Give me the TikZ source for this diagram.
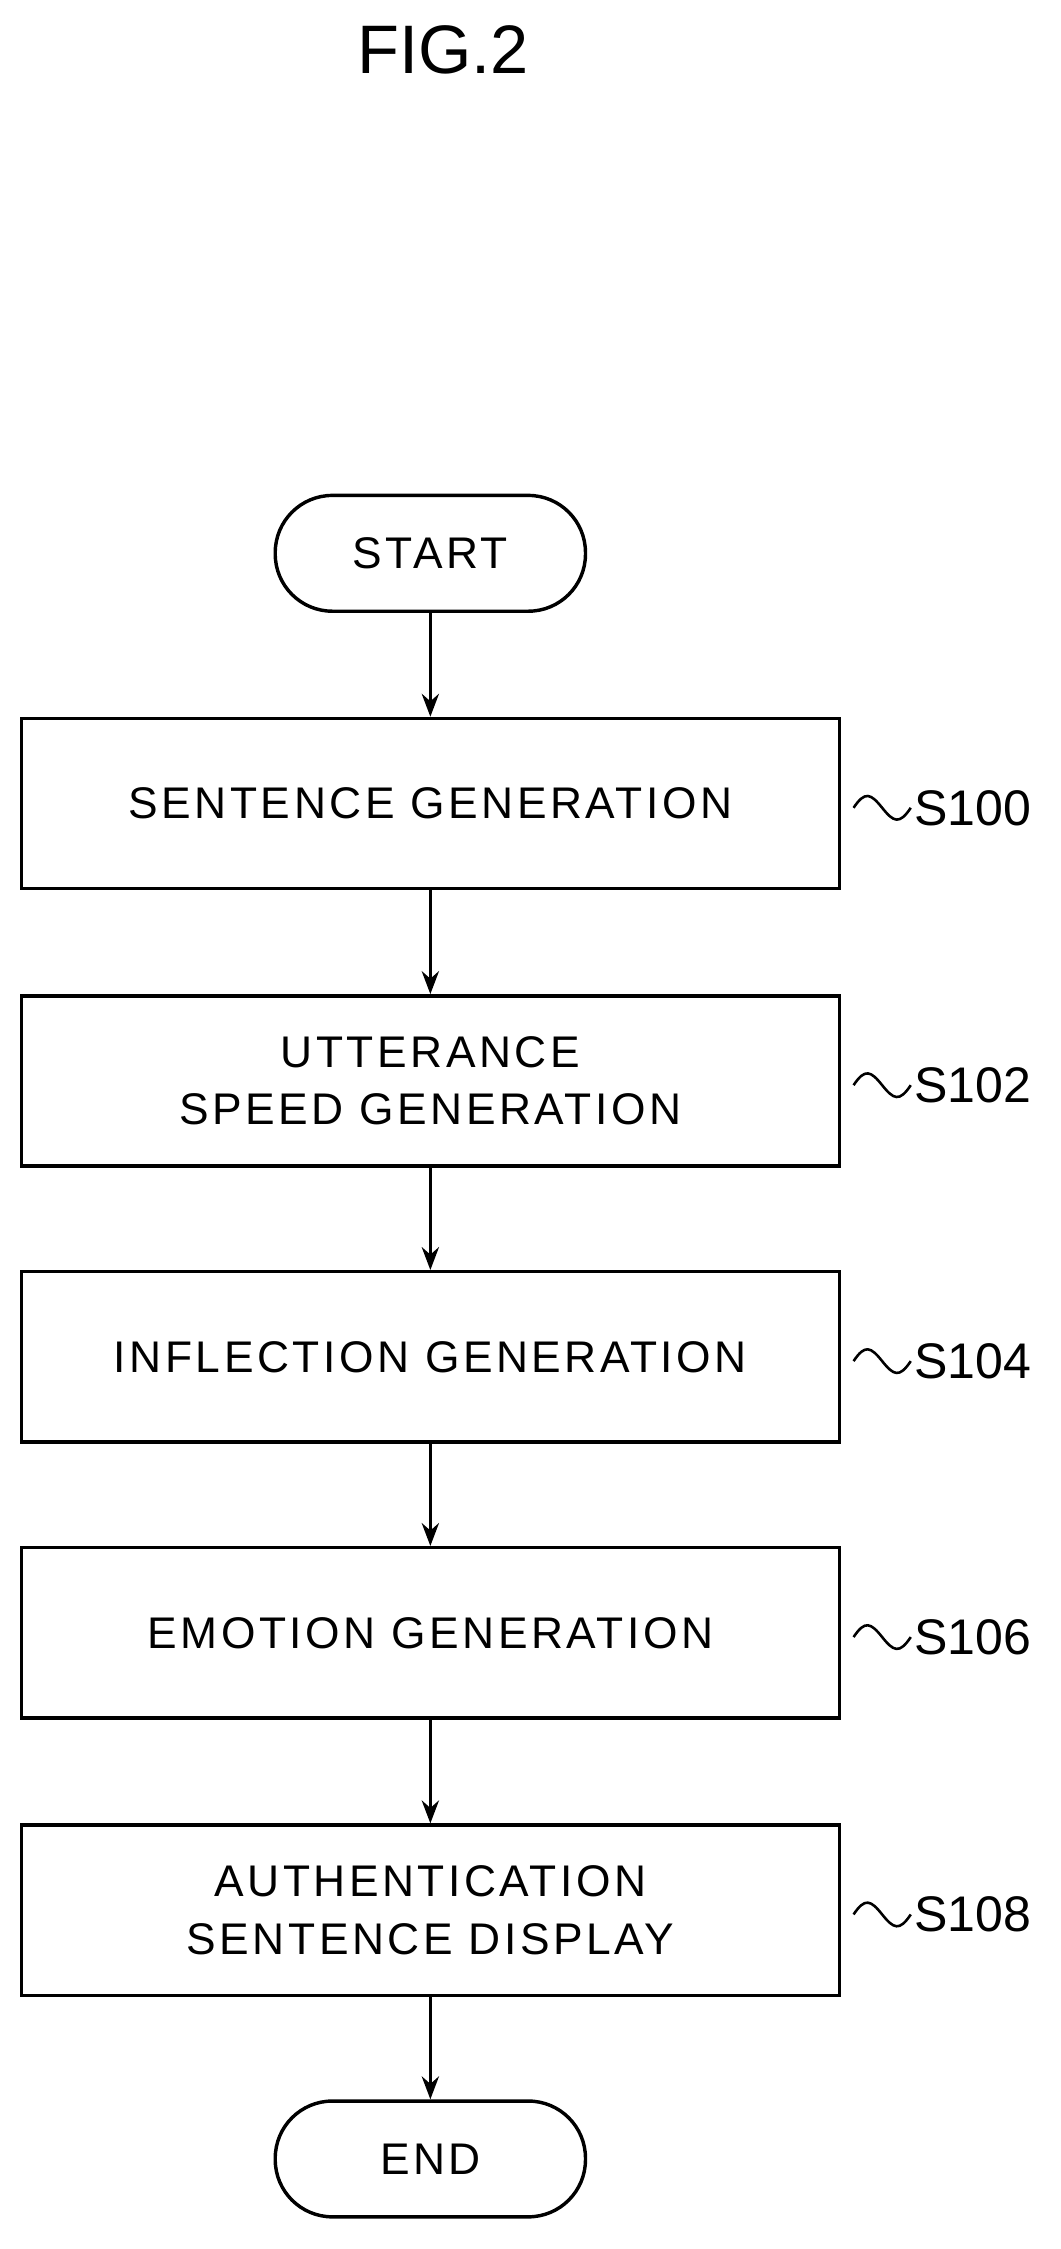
\documentclass[tikz,border=0pt]{standalone}
\usetikzlibrary{arrows.meta}
\usepackage{fontspec}
\setmainfont{Liberation Sans}
\newfontfamily\wide[LetterSpace=8]{Liberation Sans}
\begin{document}
\begin{tikzpicture}[x=1pt,y=-1pt,
  box/.style={draw,line width=2.4pt,minimum width=572pt,minimum height=119pt,align=center,font=\wide\fontsize{31}{40}\selectfont},
  term/.style={draw,line width=2.4pt,rounded corners=40pt,minimum width=217pt,minimum height=81pt,font=\wide\fontsize{31}{40}\selectfont},
  arr/.style={line width=2.4pt,-{Stealth[length=16pt,width=12pt]}},
  lab/.style={font=\fontsize{35}{40}\selectfont,anchor=west}]
\useasboundingbox (0,0) rectangle (742,1573);
\node[font=\fontsize{48}{52}\selectfont] (title) at (310,35) {FIG.2};
\node[term] (start) at (301,387) {START};
\node[box] (b1) at (301,562) {SENTENCE GENERATION};
\node[box] (b2) at (301,756) {UTTERANCE\\SPEED GENERATION};
\node[box] (b3) at (301,949) {INFLECTION GENERATION};
\node[box] (b4) at (301,1142) {EMOTION GENERATION};
\node[box] (b5) at (301,1336) {AUTHENTICATION\\SENTENCE DISPLAY};
\node[term] (end) at (301,1510) {END};
\draw[arr] (start) -- (b1);
\draw[arr] (b1) -- (b2);
\draw[arr] (b2) -- (b3);
\draw[arr] (b3) -- (b4);
\draw[arr] (b4) -- (b5);
\draw[arr] (b5) -- (end);
\foreach \n/\t/\y in {1/S100/565,2/S102/759,3/S104/952,4/S106/1145,5/S108/1339}{
  \coordinate (w\n) at (597,\y);
  \draw[line width=1.8pt] (w\n) .. controls +(8,-12) and +(-8,-10) .. +(20,0) .. controls +(8,10) and +(-8,12) .. +(40,0);
  \node[lab] (s\n) at (636,\y) {\t};
}
\end{tikzpicture}
\end{document}
